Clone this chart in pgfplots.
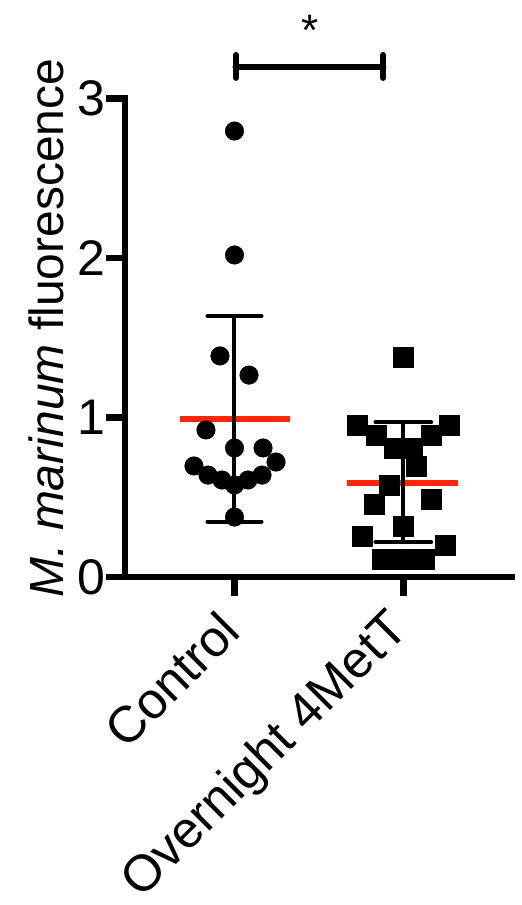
\documentclass[border=0pt]{standalone}
\usepackage{pgfplots}
\pgfplotsset{compat=1.18}
\usepackage{fontspec}
\setmainfont{Liberation Sans}
\definecolor{meanred}{RGB}{255,38,0}
\begin{document}
\begin{tikzpicture}[x=1pt,y=1pt]
\path[use as bounding box] (-125,-328) rectangle (397,577);
\begin{axis}[
  at={(0,0)}, anchor=south west,
  scale only axis, width=387pt, height=478.5pt,
  xmin=-0.6487, xmax=1.644, ymin=0, ymax=3,
  clip=false,
  axis x line=bottom, axis y line=left,
  axis line style={line width=6.5pt, -, line cap=rect, black},
  tick align=outside,
  major tick length=19pt,
  tick style={line width=6.5pt, black},
  xtick={0,1}, xticklabels={},
  ytick={0,1,2,3},
  /pgf/number format/assume math mode=true,
  tick label style={font=\fontsize{50}{58}\selectfont},
  yticklabel style={anchor=east, inner sep=0pt},
  ylabel={\textit{M. marinum} fluorescence},
  every axis y label/.style={at={(axis description cs:-0.16,0.52)}, rotate=90, anchor=base, font=\fontsize{48}{56}\selectfont, inner sep=0pt},
]
% means
\addplot[meanred, line width=6.7pt, line cap=butt] coordinates {(-0.323,0.99) (0.329,0.99)};
\addplot[meanred, line width=6.7pt, line cap=butt] coordinates {(0.666,0.589) (1.324,0.589)};
% SD bars
\addplot[black, line width=4pt, line cap=round] coordinates {(0,0.347) (0,1.638)};
\addplot[black, line width=4pt, line cap=round] coordinates {(-0.16,1.638) (0.16,1.638)};
\addplot[black, line width=4pt, line cap=round] coordinates {(-0.16,0.347) (0.16,0.347)};
\addplot[black, line width=4pt, line cap=round] coordinates {(1,0.219) (1,0.970)};
\addplot[black, line width=4pt, line cap=round] coordinates {(0.835,0.970) (1.165,0.970)};
\addplot[black, line width=4pt, line cap=round] coordinates {(0.835,0.219) (1.165,0.219)};
% Control points
\addplot[only marks, mark=*, mark size=9.3pt, mark options={draw=none, fill=black}] coordinates {
(0,2.796) (0,2.019) (-0.086,1.386) (0.086,1.266) (-0.169,0.922) (0,0.809) (0.169,0.809)
(0.246,0.721) (-0.24,0.696) (-0.157,0.639) (-0.074,0.608) (0,0.577) (0.08,0.608) (0.163,0.639) (0,0.376)};
% Overnight 4MetT points
\addplot[only marks, mark=square*, mark size=10pt, mark options={draw=none, fill=black}] coordinates {
(1.0,1.381) (0.724,0.953) (1.271,0.953) (0.838,0.890) (1.168,0.890) (0.945,0.809) (1.05,0.809)
(1.079,0.692) (0.917,0.577) (0.826,0.458) (1.168,0.489) (1.0,0.320) (0.755,0.257) (1.247,0.201)
(0.874,0.113) (1.0,0.113) (1.121,0.113)};
% significance bracket
\addplot[black, line width=6.5pt, line cap=round] coordinates {(0.007,3.199) (0.881,3.199)};
\addplot[black, line width=6pt, line cap=round] coordinates {(0.007,3.273) (0.007,3.129)};
\addplot[black, line width=6pt, line cap=round] coordinates {(0.881,3.273) (0.881,3.129)};
\node[anchor=base, inner sep=0pt, font=\fontsize{44}{50}\selectfont] at (axis cs:0.447,3.33) {*};
% category labels
\node[rotate=45, anchor=base east, inner sep=0pt, font=\fontsize{51}{58}\selectfont] at ([xshift=8pt, yshift=-57pt]axis cs:0,0) {Control};
\node[rotate=45, anchor=base east, inner sep=0pt, font=\fontsize{51}{58}\selectfont] at ([xshift=7pt, yshift=-54pt]axis cs:1,0) {Overnight 4MetT};
\end{axis}
\end{tikzpicture}
\end{document}
